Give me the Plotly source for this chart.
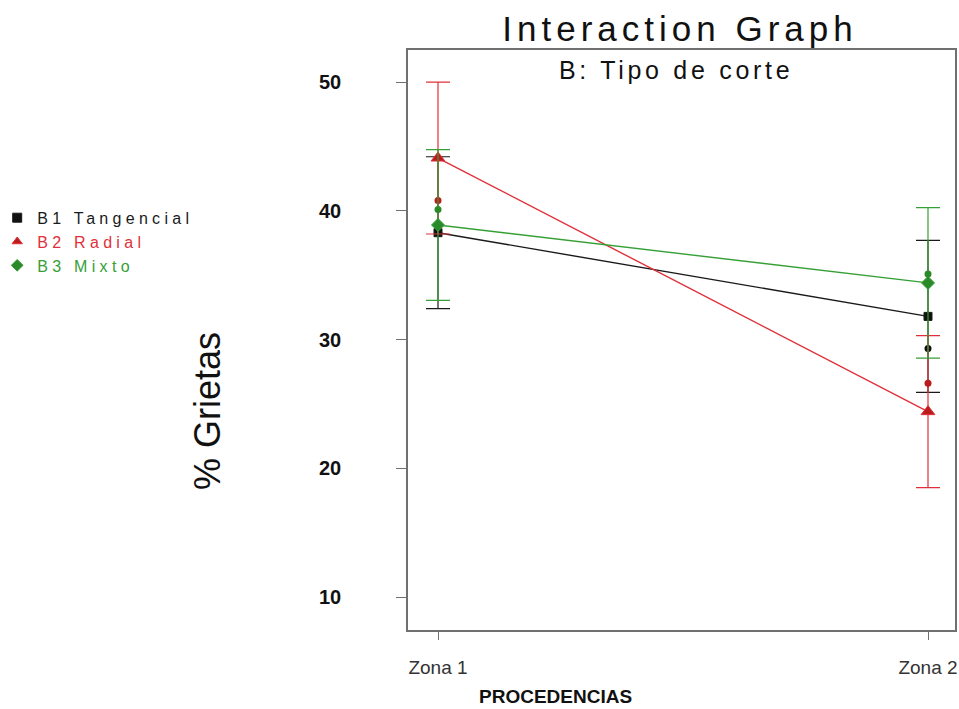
import plotly.graph_objects as go

# ---- data ----
zones = ["Zona 1", "Zona 2"]
zone_pos = [1, 2]
series_names = ["B1 Tangencial", "B2 Radial", "B3 Mixto"]
b1_means = [38.3, 31.8]
b2_means = [44.1, 24.4]
b3_means = [38.9, 34.4]
b1_err = [5.9, 5.9]
b2_err = [5.9, 5.9]
b3_err = [5.85, 5.85]
# individual observed points
b1_pts_x = [2]
b1_pts_y = [29.3]
b2_pts_x = [1, 2]
b2_pts_y = [40.8, 26.6]
b3_pts_x = [1, 2]
b3_pts_y = [40.1, 35.1]
y_ticks = [10, 20, 30, 40, 50]

colors = ["#1a1a1a", "#e0303a", "#36a036"]
marker_fill = ["#111111", "#b81c1c", "#2a8a2a"]
symbols = ["square", "triangle-up", "diamond"]
sizes = [8, 12, 10]

fig = go.Figure()

means = [b1_means, b2_means, b3_means]
errs = [b1_err, b2_err, b3_err]
pts = [(b1_pts_x, b1_pts_y), (b2_pts_x, b2_pts_y), (b3_pts_x, b3_pts_y)]

for i in range(3):
    fig.add_trace(go.Scatter(
        x=zone_pos, y=means[i], mode="lines+markers",
        line=dict(color=colors[i], width=1.4),
        marker=dict(symbol=symbols[i], size=sizes[i], color=marker_fill[i],
                    line=dict(color=colors[i], width=1)),
        error_y=dict(type="data", array=errs[i], visible=True,
                     color=colors[i], thickness=1.2, width=12),
        showlegend=False, hoverinfo="skip"))
    fig.add_trace(go.Scatter(
        x=pts[i][0], y=pts[i][1], mode="markers",
        marker=dict(symbol="circle", size=7, color=marker_fill[i]),
        showlegend=False, hoverinfo="skip"))

# legend entries (markers only)
for i in range(3):
    fig.add_trace(go.Scatter(
        x=[None], y=[None], mode="markers",
        marker=dict(symbol=symbols[i], size=9, color=marker_fill[i],
                    line=dict(color=colors[i], width=1)),
        name='<span style="color:%s;letter-spacing:4.3px">%s</span>' % (colors[i], series_names[i]),
        showlegend=True))

fig.update_layout(
    width=959, height=709,
    margin=dict(l=408, r=4, t=50, b=79, autoexpand=False),
    paper_bgcolor="white", plot_bgcolor="white",
    title=dict(text='<span style="letter-spacing:5px">Interaction Graph</span>',
               x=680/959, xref="container", xanchor="center",
               y=1-29/709, yref="container", yanchor="middle",
               font=dict(family="Liberation Sans", size=35, color="#111")),
    legend=dict(x=-0.751, y=0.74, xanchor="left", yanchor="top",
                font=dict(family="Liberation Sans", size=16, color="#111"),
                bgcolor="rgba(0,0,0,0)", tracegroupgap=0, itemwidth=30),
    font=dict(family="Liberation Sans"),
)

fig.update_xaxes(
    range=[1 - 30/490, 2 + 27/490], tickmode="array", tickvals=zone_pos, ticktext=zones,
    showline=True, linecolor="#707070", linewidth=1.5, mirror=True,
    ticks="outside", ticklen=8, tickcolor="#707070", ticklabelstandoff=11,
    tickfont=dict(family="Liberation Sans", size=19, color="#333"),
    showgrid=False, zeroline=False)

fig.update_yaxes(
    range=[7.44, 52.49], tickmode="array", tickvals=y_ticks,
    showline=True, linecolor="#707070", linewidth=1.5, mirror=True,
    ticks="outside", ticklen=10, tickcolor="#707070", ticklabelstandoff=51,
    tickfont=dict(family="Liberation Sans", size=20, color="#111", weight="bold"),
    showgrid=False, zeroline=False)

fig.add_annotation(text='<span style="letter-spacing:3.7px">B: Tipo de corte</span>',
                   xref="paper", yref="paper",
                   x=(676-408)/547, y=(630-70)/580, showarrow=False,
                   xanchor="center", yanchor="middle",
                   font=dict(family="Liberation Sans", size=25, color="#111"))
fig.add_annotation(text="% Grietas", xref="paper", yref="paper",
                   x=(207-408)/547, y=(630-411)/580, showarrow=False, textangle=-90,
                   xanchor="center", yanchor="middle",
                   font=dict(family="Liberation Sans", size=36, color="#111"))
fig.add_annotation(text="<b>PROCEDENCIAS</b>", xref="paper", yref="paper",
                   x=(555-408)/547, y=-(696-630)/580, showarrow=False,
                   xanchor="center", yanchor="middle",
                   font=dict(family="Liberation Sans", size=19, color="#111"))

fig.write_html("out.html", config={"displayModeBar": False},
               post_script="document.body.style.margin='0';document.body.style.overflow='hidden';")
